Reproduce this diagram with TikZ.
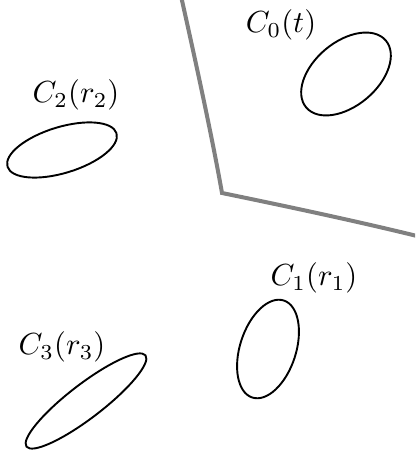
\documentclass[tikz,border=0pt]{standalone}
\begin{document}
\begin{tikzpicture}[x=1pt,y=1pt,
  curve/.style={draw=black,line width=1.9pt},
  wall/.style={draw=black!50,line width=4pt},
  lab/.style={scale=3.05,transform shape,inner sep=0pt}]
\useasboundingbox (0,0) rectangle (415,452);
\begin{scope}
\clip (0,0) rectangle (415,452);
\coordinate (top) at (181,456);
\coordinate (corner) at (222,259);
\coordinate (right) at (417,216);
\draw[wall,line join=miter] (top) .. controls (198,380) and (213,310) .. (corner)
  .. controls (290,245) and (360,230) .. (right);
\end{scope}
\draw[curve,rotate around={40:(346,378)}] (346,378) ellipse [x radius=52,y radius=32];
\draw[curve,rotate around={17:(62,302)}] (62,302) ellipse [x radius=57,y radius=23];
\draw[curve,rotate around={72:(268,103)}] (268,103) ellipse [x radius=51,y radius=28];
\draw[curve,rotate around={37.5:(86,51)}] (86,51) ellipse [x radius=75,y radius=17];
\node[lab] (l0) at (281,427) {$C_0(t)$};
\node[lab] (l2) at (76,357) {$C_2(r_2)$};
\node[lab] (l1) at (314,174) {$C_1(r_1)$};
\node[lab] (l3) at (62,105) {$C_3(r_3)$};
\end{tikzpicture}
\end{document}
